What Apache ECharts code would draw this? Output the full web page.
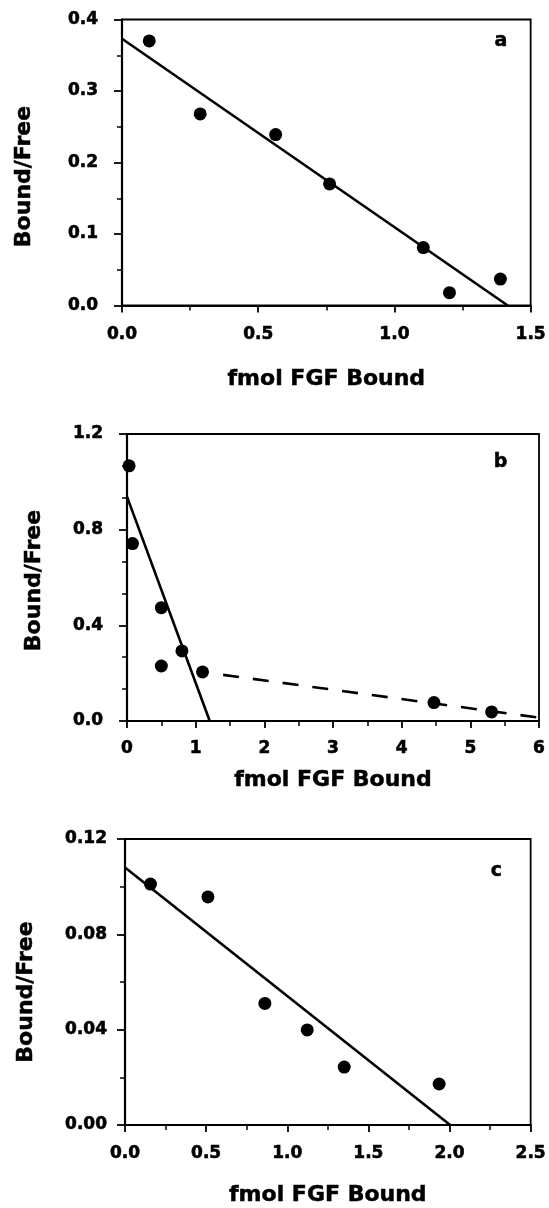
<!DOCTYPE html>
<html><head><meta charset="utf-8">
<script src="https://cdn.jsdelivr.net/npm/echarts@6/dist/echarts.min.js"></script>
<style>html,body{margin:0;padding:0;background:#fff}#c{width:549px;height:1208px}</style>
</head><body><div id="c"></div>
<script>
// Panel a
const aX = [0.10, 0.287, 0.564, 0.762, 1.106, 1.202, 1.389];
const aY = [0.370, 0.268, 0.239, 0.170, 0.081, 0.018, 0.037];
const aFit = [[0, 0.373], [1.416, 0]];
// Panel b
const bX = [0.03, 0.08, 0.50, 0.50, 0.80, 1.10, 4.47, 5.31];
const bY = [1.067, 0.742, 0.474, 0.230, 0.293, 0.205, 0.077, 0.038];
const bFitHigh = [[0, 0.938], [1.205, 0]];
const bFitLow = [[1.40, 0.193], [6.0, 0.014]];
// Panel c
const cX = [0.157, 0.511, 0.862, 1.123, 1.351, 1.936];
const cY = [0.1011, 0.0957, 0.0510, 0.0399, 0.0243, 0.0172];
const cFit = [[0, 0.108], [2.004, 0]];
// Axis definitions
const axesA = {xMax: 1.5, xInt: 0.5, xDec: 1, yMax: 0.4, yInt: 0.1, yDec: 1};
const axesB = {xMax: 6, xInt: 1, xDec: 0, yMax: 1.2, yInt: 0.4, yDec: 1};
const axesC = {xMax: 2.5, xInt: 0.5, xDec: 1, yMax: 0.12, yInt: 0.04, yDec: 2};
const xTitle = 'fmol FGF Bound';
const yTitle = 'Bound/Free';
const panelLetters = ['a', 'b', 'c'];

const FONT = 'DejaVu Sans';
const BLK = '#000';
const zip = (xs, ys) => xs.map((x, i) => [x, ys[i]]);

const grids = [
  {left: 122, top: 19.5, width: 413, height: 286},
  {left: 127, top: 434, width: 412, height: 287},
  {left: 125, top: 839, width: 411, height: 286}
];
const cfg = [
  {ax: axesA, ySplit: 2, xLabM: 21, yLabM: 24, xGap: 63, yGap: 87, yPad: [0, 28, 0, 0]},
  {ax: axesB, ySplit: 3, xLabM: 19, yLabM: 24, xGap: 48, yGap: 82, yPad: [0, 6, 0, 0]},
  {ax: axesC, ySplit: 2, xLabM: 20, yLabM: 18, xGap: 59, yGap: 88, yPad: [0, 20, 0, 0]}
];

const labelStyle = {fontFamily: FONT, fontWeight: 'bold', fontSize: 17, color: BLK,
  textBorderColor: BLK, textBorderWidth: 0.6};
const nameStyle = {fontFamily: FONT, fontWeight: 'bold', fontSize: 22, color: BLK,
  textBorderColor: BLK, textBorderWidth: 0.5};

const xAxis = cfg.map((c, i) => ({
  type: 'value', gridIndex: i, min: 0, max: c.ax.xMax, interval: c.ax.xInt,
  name: xTitle, nameLocation: 'middle', nameGap: c.xGap, nameTextStyle: nameStyle,
  axisLine: {onZero: false, lineStyle: {color: BLK, width: 2.2}},
  axisTick: {length: 7, lineStyle: {color: BLK, width: 1.8}},
  minorTick: {show: true, splitNumber: 2, length: 5, lineStyle: {color: BLK, width: 1.5}},
  splitLine: {show: false}, minorSplitLine: {show: false},
  axisLabel: Object.assign({margin: c.xLabM, formatter: v => v.toFixed(c.ax.xDec)}, labelStyle)
}));
const yAxis = cfg.map((c, i) => ({
  type: 'value', gridIndex: i, min: 0, max: c.ax.yMax, interval: c.ax.yInt,
  name: yTitle, nameLocation: 'middle', nameGap: c.yGap, nameRotate: 90,
  nameTextStyle: Object.assign({padding: c.yPad}, nameStyle),
  axisLine: {onZero: false, lineStyle: {color: BLK, width: 2.2}},
  axisTick: {length: 8, lineStyle: {color: BLK, width: 1.8}},
  minorTick: {show: true, splitNumber: c.ySplit, length: 5, lineStyle: {color: BLK, width: 1.5}},
  splitLine: {show: false}, minorSplitLine: {show: false},
  axisLabel: Object.assign({margin: c.yLabM, formatter: v => v.toFixed(c.ax.yDec)}, labelStyle)
}));

const scatter = (data, i) => ({
  type: 'scatter', xAxisIndex: i, yAxisIndex: i, data, symbol: 'circle', symbolSize: 13,
  itemStyle: {color: BLK, opacity: 1}, z: 5, silent: true
});
const line = (data, i, dashed) => ({
  type: 'line', xAxisIndex: i, yAxisIndex: i, data, showSymbol: false, symbol: 'none',
  lineStyle: {color: BLK, width: 2.6, opacity: 1, type: dashed ? [16, 14] : 'solid'}, z: 3, silent: true
});

const letterPos = [[501, 41], [500.5, 462.5], [496.5, 871]];

const option = {
  animation: false,
  backgroundColor: '#fff',
  grid: grids.map(g => Object.assign({show: true, borderColor: BLK, borderWidth: 1.8, backgroundColor: 'transparent'}, g)),
  xAxis, yAxis,
  series: [
    scatter(zip(aX, aY), 0), line(aFit, 0, false),
    scatter(zip(bX, bY), 1), line(bFitHigh, 1, false), line(bFitLow, 1, true),
    scatter(zip(cX, cY), 2), line(cFit, 2, false)
  ],
  graphic: panelLetters.map((t, i) => ({
    type: 'text', x: letterPos[i][0], y: letterPos[i][1], silent: true,
    style: {text: t, fontFamily: FONT, fontWeight: 'bold', fontSize: 19, fill: BLK,
      stroke: BLK, lineWidth: 0.5, align: 'center', verticalAlign: 'middle'}
  }))
};
const chart = echarts.init(document.getElementById('c'), null, {renderer: 'canvas'});
chart.setOption(option);
</script></body></html>
